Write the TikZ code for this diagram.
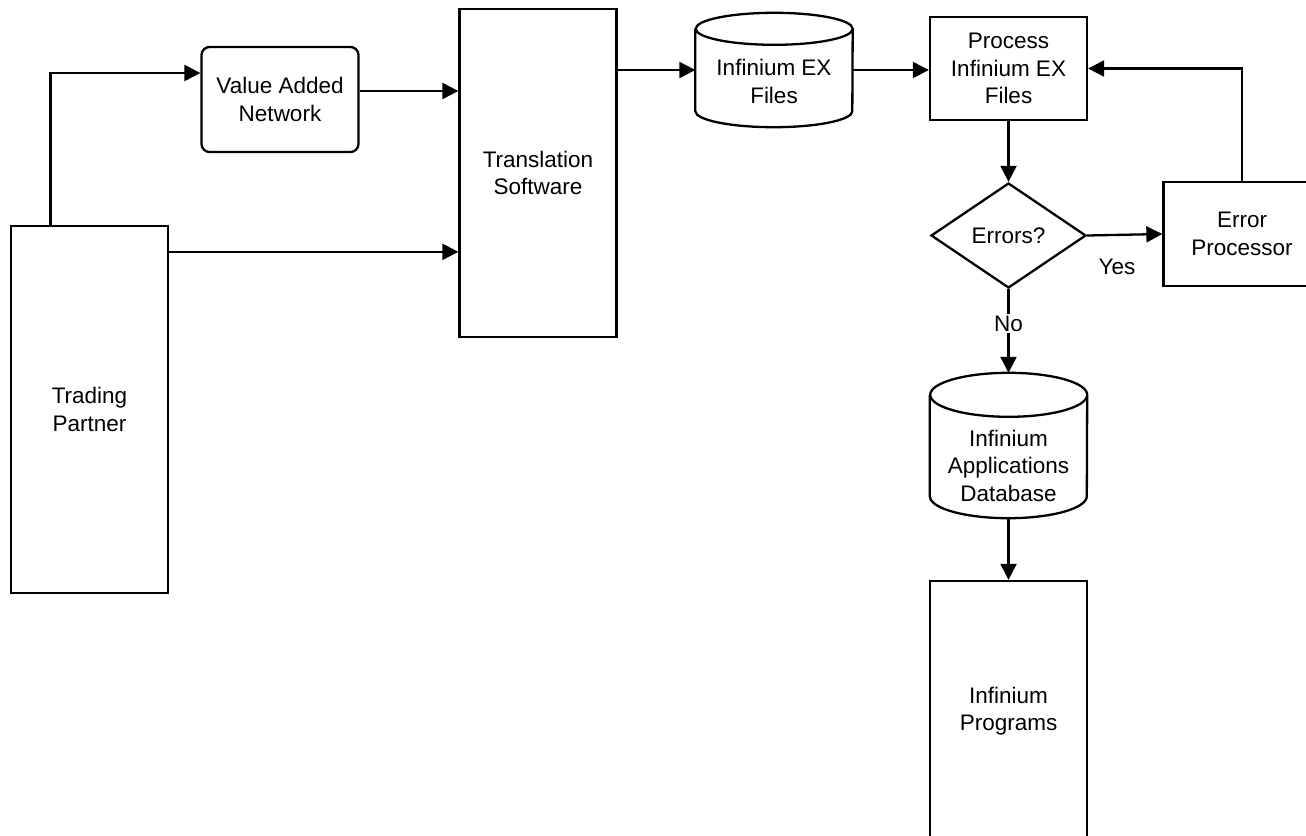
\documentclass[tikz,border=0pt]{standalone}
\usepackage{fontspec}
\setmainfont{Liberation Sans}
\usetikzlibrary{calc}
\usetikzlibrary{shapes.geometric}
\usetikzlibrary{arrows.meta}

% drum outline round an empty node: #1 node name, #2 half-height of the end ellipse
\newcommand{\drawdrum}[2]{%
  \draw[line width=2.3pt]
    ($(#1.north west)+(0,-#2)$) -- ($(#1.south west)+(0,#2)$)
    arc[start angle=180,end angle=360,x radius=78.5,y radius=#2]
    -- ($(#1.north east)+(0,-#2)$)
    arc[start angle=0,end angle=180,x radius=78.5,y radius=#2]
    arc[start angle=180,end angle=360,x radius=78.5,y radius=#2];
}

\begin{document}
\begin{tikzpicture}[x=1pt,y=1pt,
  txt/.style={align=center,font=\fontsize{22.5}{27.5}\selectfont},
  box/.style={txt,draw,line width=2.3pt,inner sep=0pt,minimum width=157pt},
  drum/.style={inner sep=0pt,minimum width=157pt},
  arr/.style={line width=2.3pt,-{Triangle[length=16pt,width=16pt]}}]
   \useasboundingbox (0,0) rectangle (1306,-835);
   \clip (0,0) rectangle (1306,-835);

    % boxes
    \node[box,minimum height=367pt] (tp) at (89.5,-409.5) {Trading\\Partner};
    \node[box,rounded corners=8pt,minimum height=105pt] (van) at (280,-99.5) {Value Added\\Network};
    \node[box,minimum height=328pt] (ts) at (538,-173) {Translation\\Software};
    \node[box,minimum height=103pt] (pif) at (1008.5,-68.5) {Process\\Infinium EX\\Files};
    \node[txt,draw,line width=2.3pt,shape=diamond,inner sep=0pt,aspect=1.48,
          minimum width=155pt,minimum height=105pt] (err) at (1008.5,-235.5) {Errors?};
    \node[box,minimum height=104pt] (ep) at (1242,-234) {Error\\Processor};
    \node[box,minimum height=260pt] (prg) at (1008.5,-711) {Infinium\\Programs};

    % the two drums
    \node[drum,minimum height=114pt] (exf) at (774,-70) {};
    \drawdrum{exf}{16}
    \node[txt] (exf-t) at (774,-81.5) {Infinium EX\\Files};
    \node[drum,minimum height=145pt] (db) at (1008.5,-445.5) {};
    \drawdrum{db}{22}
    \node[txt] (db-t) at (1008.5,-465.5) {Infinium\\Applications\\Database};

    % arrows
    \draw[arr] ([xshift=-39pt]tp.north) |- ([yshift=26.5pt]van.west);
    \draw[arr] ([yshift=8.5pt]van.east) -- ([yshift=8.5pt]van.east -| ts.west);
    \draw[arr] ([yshift=-27pt]tp.north east) -- ([yshift=-27pt]tp.north east -| ts.west);
    \draw[arr] (exf.west -| ts.east) -- (exf.west);
    \draw[arr] (exf.east) -- (exf.east -| pif.west);
    \draw[arr] (pif.south) -- (err.north);
    \draw[arr] (err.east) -- (ep.west);
    \draw[arr] (ep.north) |- (pif.east);
    \draw[arr] (err.south) -- node[txt,fill=white,inner sep=2pt,pos=0.41] (no) {No} (db.north);
    \draw[arr] (db.south) -- (prg.north);

    \node[txt] (yes) at (1117,-267) {Yes};
\end{tikzpicture}
\end{document}
